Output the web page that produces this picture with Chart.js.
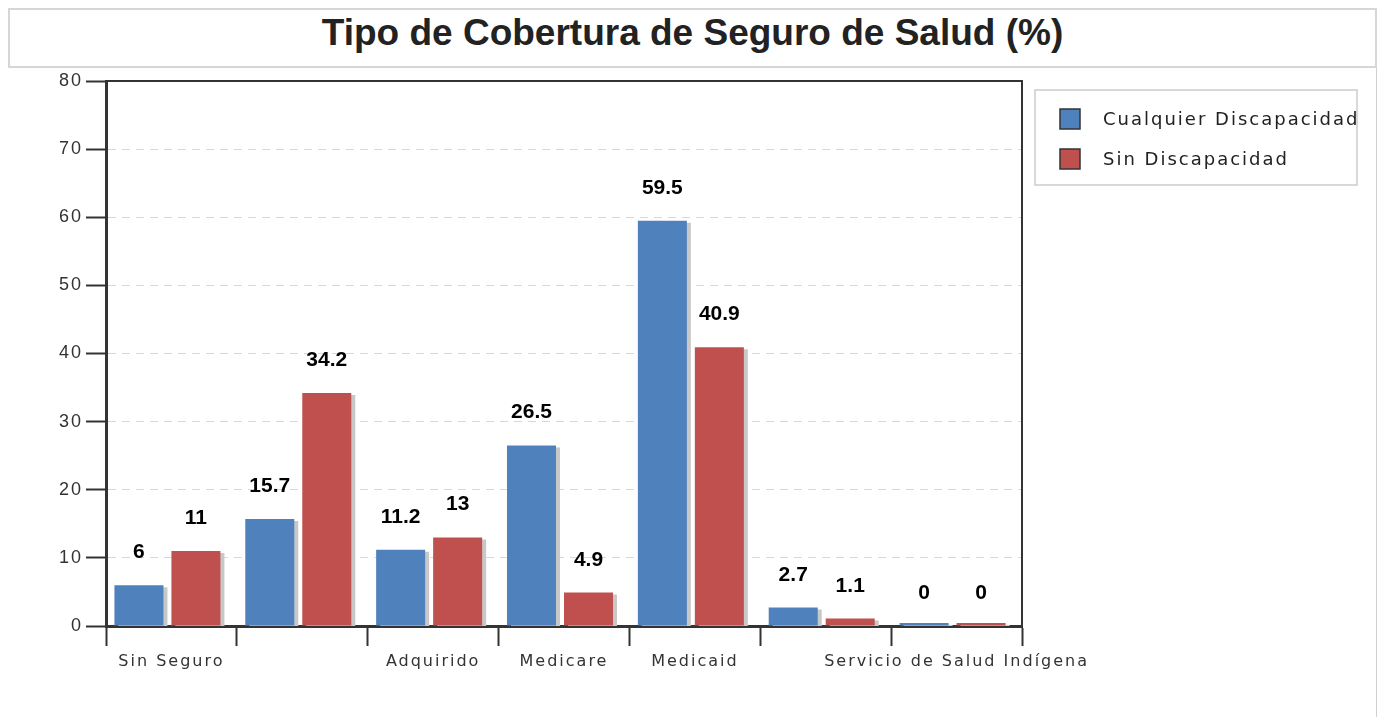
<!DOCTYPE html>
<html>
<head>
<meta charset="utf-8">
<title>Tipo de Cobertura de Seguro de Salud</title>
<script src="https://cdn.jsdelivr.net/npm/chart.js@4.4.0/dist/chart.umd.min.js"></script>
<style>
  body { margin: 0; background: #fff; }
  #wrap { position: relative; width: 1380px; height: 717px; overflow: hidden; background: #fff; }
  #title {
    position: absolute; left: 8px; top: 8px; width: 1369px; height: 60px;
    box-sizing: border-box; border: 2px solid #d6d6d6; background: #fff;
    text-align: center; color: #222;
    font: bold 37px "Liberation Sans", Arial, sans-serif; line-height: 46px;
  }
  #edge { position: absolute; left: 1376px; top: 68px; height: 649px; border-left: 1px solid #cfcfcf; }
  canvas { position: absolute; left: 0; top: 0; }
</style>
</head>
<body>
<div id="wrap">
  <canvas id="myChart" width="1380" height="717"></canvas>
  <div id="title">Tipo de Cobertura de Seguro de Salud (%)</div>
  <div id="edge"></div>
</div>
<script>
// data.....................
var categories = ["Sin Seguro", "", "Adquirido", "Medicare", "Medicaid", "", "Servicio de Salud Indígena"];
var seriesNames = ["Cualquier Discapacidad", "Sin Discapacidad"];
var anyDisability = [6, 15.7, 11.2, 26.5, 59.5, 2.7, 0];
var noDisability = [11, 34.2, 13, 4.9, 40.9, 1.1, 0];
var yMin = 0, yMax = 80, yStep = 10;
var barColors = ["#4f81bd", "#c0504d"];

// layout bits
var barShift = -4;      // bars sit a bit left of the category centre
var labelGap = 27;      // value label baseline above bar top

// letter spacing for the axis text (canvas text looks spread out in the original)
var spacingPlugin = {
  id: "spacing",
  beforeLayout: function (chart) { chart.ctx.letterSpacing = "2px"; },
  beforeDraw: function (chart) { chart.ctx.letterSpacing = "2px"; }
};

// bar shadow + shift
var shadowPlugin = {
  id: "barShadow",
  beforeDatasetsDraw: function (chart) {
    var ctx = chart.ctx;
    ctx.save();
    ctx.translate(barShift, 0);
    ctx.shadowColor = "#c8c8c8";
    ctx.shadowOffsetX = 4;
    ctx.shadowOffsetY = 2;
    ctx.shadowBlur = 0;
  },
  afterDatasetsDraw: function (chart) {
    chart.ctx.restore();
  }
};

// value labels, frame and legend box
var extrasPlugin = {
  id: "extras",
  afterDraw: function (chart) {
    var ctx = chart.ctx;
    var area = chart.chartArea;

    // frame top + right
    ctx.save();
    ctx.letterSpacing = "0px";
    ctx.strokeStyle = "#333";
    ctx.lineWidth = 2;
    ctx.beginPath();
    ctx.moveTo(area.left, area.top);
    ctx.lineTo(area.right, area.top);
    ctx.lineTo(area.right, area.bottom);
    ctx.stroke();

    // value labels
    ctx.fillStyle = "#000";
    ctx.font = "bold 21px 'Liberation Sans', Arial, sans-serif";
    ctx.textAlign = "center";
    ctx.textBaseline = "alphabetic";
    chart.data.datasets.forEach(function (ds, i) {
      var meta = chart.getDatasetMeta(i);
      meta.data.forEach(function (bar, j) {
        var top = Math.min(bar.y, bar.base);
        if (ds.data[j] === 0) top = bar.base;
        ctx.fillText(String(ds.data[j]), bar.x + barShift, top - labelGap);
      });
    });

    // legend
    var bx = area.right + 13, by = area.top + 9, bw = 322, bh = 95;
    ctx.strokeStyle = "#cccccc";
    ctx.lineWidth = 1.5;
    ctx.strokeRect(bx, by, bw, bh);
    ctx.font = "18px 'DejaVu Sans', sans-serif";
    ctx.letterSpacing = "2px";
    ctx.textAlign = "left";
    ctx.textBaseline = "middle";
    chart.data.datasets.forEach(function (ds, i) {
      var sy = by + 19 + i * 40;
      ctx.fillStyle = ds.backgroundColor;
      ctx.fillRect(bx + 25, sy, 20, 20);
      ctx.strokeStyle = "#333";
      ctx.lineWidth = 1.5;
      ctx.strokeRect(bx + 25, sy, 20, 20);
      ctx.fillStyle = "#222";
      ctx.fillText(ds.label, bx + 68, sy + 11);
    });
    ctx.restore();
  }
};

new Chart("myChart", {
  type: "bar",
  data: {
    labels: categories,
    datasets: [{
      label: seriesNames[0],
      data: anyDisability,
      backgroundColor: barColors[0]
    }, {
      label: seriesNames[1],
      data: noDisability,
      backgroundColor: barColors[1]
    }]
  },
  options: {
    responsive: false,
    animation: false,
    events: [],
    categoryPercentage: 0.871,
    barPercentage: 0.86,
    minBarLength: 3,
    layout: {
      padding: { left: 0, top: 81, right: 358, bottom: 0 }
    },
    plugins: {
      legend: { display: false },
      title: { display: false },
      tooltip: { enabled: false }
    },
    scales: {
      x: {
        afterFit: function (scale) { scale.height = 91; },
        grid: {
          offset: true,
          drawOnChartArea: false,
          drawTicks: true,
          tickLength: 20,
          tickColor: "#333",
          tickWidth: 2
        },
        border: { color: "#333", width: 3 },
        ticks: {
          autoSkip: false,
          maxRotation: 0,
          minRotation: 0,
          padding: 6,
          color: "#333",
          font: { family: "'DejaVu Sans', sans-serif", size: 16 }
        }
      },
      y: {
        min: yMin,
        max: yMax,
        afterFit: function (scale) { scale.width = 106; },
        grid: {
          color: "#d8d8d8",
          lineWidth: 1,
          drawTicks: true,
          tickLength: 20,
          tickColor: "#333",
          tickWidth: 2
        },
        border: { color: "#333", width: 3, dash: [8, 6] },
        ticks: {
          stepSize: yStep,
          padding: 3,
          color: "#333",
          font: { family: "'Liberation Sans', Arial, sans-serif", size: 18 }
        }
      }
    }
  },
  plugins: [spacingPlugin, shadowPlugin, extrasPlugin]
});
</script>
</body>
</html>
